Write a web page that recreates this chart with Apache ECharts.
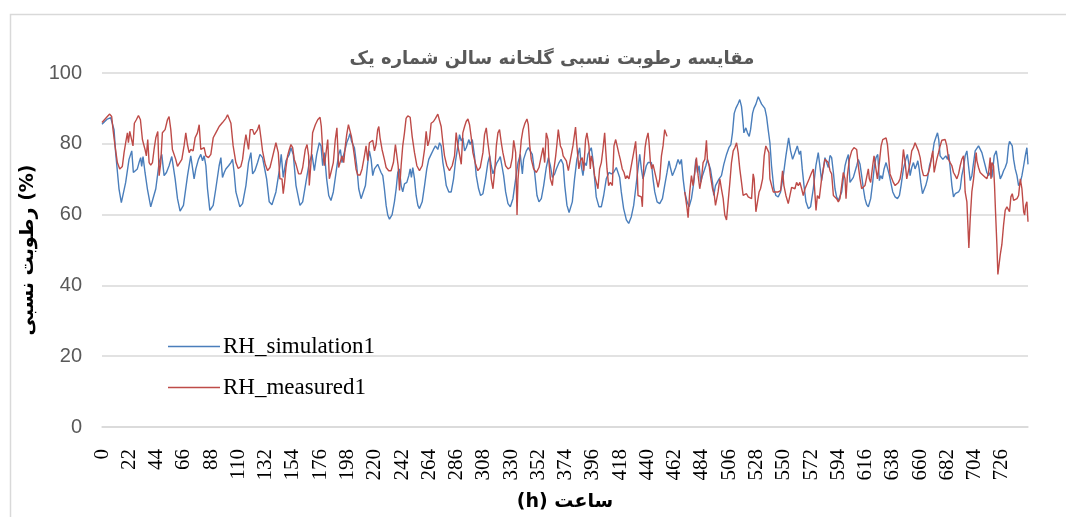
<!DOCTYPE html>
<html><head><meta charset="utf-8">
<script src="https://cdn.jsdelivr.net/npm/echarts@6/dist/echarts.min.js"></script>
<style>html,body{margin:0;padding:0;background:#fff}#c{width:1066px;height:517px}</style>
</head><body><div id="c"></div>
<script>
const titleText = 'مقایسه رطوبت نسبی گلخانه سالن شماره یک';
const yAxisName = 'رطوبت نسبی (%)';
const xAxisName = '(h) ساعت';
const seriesNames = ['RH_simulation1', 'RH_measured1'];
const hourMax = 747;
const hourTickStep = 22;
const yMin = 0, yMax = 100, yStep = 20;

// [hour, RH %]
const simulation = [
[0,85.5],[4.3,87.0],[7.0,87.4],[9.7,84.0],[11.0,77.5],[13.7,67.3],[15.6,63.4],[19.1,69.1],[21.8,75.6],[24.0,78.0],[25.3,71.9],[26.7,71.5],[28.5,72.9],[29.9,74.7],[31.2,76.1],[32.0,73.6],[33.1,76.4],[34.7,71.9],[36.6,67.3],[39.3,62.2],[40.7,61.9],[43.4,67.3],[46.1,74.7],[48.2,77.0],[50.1,71.0],[52.0,71.9],[54.1,73.8],[56.3,76.4],[57.6,76.6],[59.0,70.1],[60.9,64.5],[63.0,61.0],[65.7,62.6],[69.0,71.0],[71.6,76.6],[73.0,77.0],[74.3,70.1],[75.7,72.9],[77.8,75.6],[79.7,77.0],[81.1,75.2],[82.4,76.6],[83.8,73.8],[85.1,67.3],[87.0,61.2],[89.7,62.6],[91.8,67.3],[94.5,73.8],[95.9,76.1],[97.2,70.5],[98.6,71.9],[99.9,72.9],[102.1,73.8],[104.0,74.7],[105.3,75.6],[106.6,71.9],[108.0,66.4],[111.2,62.2],[113.4,63.1],[116.1,68.2],[118.2,74.7],[120.1,77.5],[121.5,71.5],[123.3,72.4],[125.5,74.7],[127.4,77.0],[129.5,76.1],[130.9,76.6],[132.8,70.1],[134.9,63.6],[137.1,62.8],[140.3,66.4],[143.0,72.4],[144.6,77.0],[146.2,70.5],[148.4,75.2],[151.1,77.0],[152.4,78.9],[154.3,77.0],[156.5,68.2],[159.7,62.6],[161.9,63.6],[164.5,69.1],[167.2,74.7],[169.4,77.0],[171.3,72.4],[173.2,77.0],[175.3,80.3],[176.7,79.4],[178.0,73.8],[179.4,77.5],[181.2,70.1],[182.9,65.4],[184.7,64.0],[186.6,66.4],[188.8,71.9],[190.9,77.0],
[192.3,78.4],[193.6,74.7],[194.7,76.6],[196.1,78.4],[197.4,80.3],[199.0,81.7],[200.1,82.9],[201.2,80.8],[202.3,81.2],[203.6,78.9],[205.5,73.8],[207.1,67.3],[209.0,64.5],[210.3,64.3],[212.5,68.2],[214.4,74.7],[215.7,78.0],[217.1,75.6],[218.4,71.0],[219.8,72.9],[221.1,73.3],[222.4,74.2],[223.8,74.2],[225.1,71.9],[226.5,71.0],[227.8,67.3],[229.2,62.6],[230.5,59.9],[231.9,58.7],[234.0,59.9],[235.9,63.6],[237.3,67.3],[238.6,71.9],[239.9,72.9],[241.3,68.2],[242.6,66.4],[244.0,68.7],[245.9,69.1],[247.5,71.0],[248.6,72.9],[249.6,70.5],[250.7,73.3],[252.1,70.1],[253.4,65.4],[254.8,62.6],[256.1,61.7],[258.3,63.6],[260.2,68.2],[262.0,72.9],[263.6,75.6],[265.5,77.0],[267.4,78.4],[269.0,79.4],[270.9,78.4],[272.3,80.3],[273.6,79.4],[275.0,74.7],[276.3,71.9],[277.7,68.2],[279.8,66.4],[281.7,66.4],[283.6,70.1],[285.2,75.2],[287.1,79.4],[288.4,82.6],[289.8,80.8],[291.1,81.7],[292.5,78.0],[293.8,78.9],[296.0,81.2],[297.0,79.8],[298.7,81.2],[300.5,76.6],[301.9,71.0],[303.8,67.3],[305.4,65.4],[307.3,65.9],[309.4,70.1],[311.3,74.7],[312.7,76.6],[314.0,73.8],[315.4,71.5],[316.7,72.9],[318.6,74.7],[320.2,75.6],[321.3,76.4],[322.6,73.8],[324.0,71.0],[325.6,66.4],[327.5,63.1],[329.4,62.2],[331.5,64.5],[333.7,70.1],[335.6,74.7],[337.4,77.0],[339.1,71.5],[340.1,75.6],[342.3,78.0],[343.9,78.9],[345.5,79.4],[347.1,77.0],[349.0,71.9],[350.9,65.4],[352.5,63.6],[354.4,64.5],[356.3,68.2],[358.4,73.3],[360.1,76.1],[361.7,73.8],[363.3,70.5],[365.2,71.5],[366.5,72.9],[368.7,74.7],[370.3,75.6],[372.0,74.2],[373.3,68.2],[375.1,62.6],[376.8,60.6],
[379.4,63.6],[381.2,70.1],[383.1,75.6],[385.3,78.9],[386.6,73.8],[388.0,71.0],[389.3,74.7],[390.7,73.8],[392.0,77.0],[393.4,78.0],[394.7,78.9],[396.0,75.6],[397.4,70.1],[398.7,65.0],[400.9,62.2],[402.8,62.2],[404.7,65.4],[406.8,70.1],[409.0,71.9],[410.9,71.5],[412.7,71.9],[414.9,73.3],[416.2,72.9],[417.6,70.5],[418.9,66.4],[420.8,61.7],[423.0,58.5],[424.9,57.5],[427.0,59.4],[428.9,62.6],[430.5,67.3],[432.4,72.9],[433.8,77.0],[435.1,72.9],[436.4,70.1],[437.8,71.9],[439.1,73.8],[440.5,74.7],[441.8,75.2],[443.2,74.7],[444.5,70.1],[445.9,66.4],[447.8,63.6],[449.9,63.1],[452.1,64.5],[453.9,68.2],[455.8,71.9],[457.4,75.2],[458.5,73.3],[460.1,71.0],[461.2,71.9],[462.8,73.3],[464.7,75.6],[466.1,74.2],[467.4,75.6],[468.8,70.1],[470.1,66.4],[472.0,63.6],[473.6,62.2],[475.5,64.5],[477.4,69.1],[479.0,75.6],[480.3,71.9],[481.7,73.8],[483.0,69.1],[484.4,71.0],[485.7,71.5],[487.1,73.8],[488.4,75.6],[489.8,75.2],[490.8,72.9],[492.5,69.1],[493.5,65.4],[494.9,68.2],[496.2,68.7],[497.8,70.1],[499.7,71.0],[501.6,74.2],[503.8,77.0],[505.7,78.9],[507.3,79.8],[508.6,83.1],[510.0,88.6],[511.3,90.0],[513.2,91.4],[514.5,92.5],[515.9,90.5],[516.7,87.7],[517.8,83.1],[519.4,84.5],[520.7,83.1],[522.1,82.1],[523.2,84.0],[524.8,88.6],[525.9,90.0],[527.5,91.2],[529.4,93.3],[530.7,92.3],[532.1,91.2],[533.4,91.4],[534.7,90.0],[536.1,87.7],[537.4,84.0],[538.8,80.3],[540.1,73.8],[542.0,67.3],[543.6,65.4],[545.5,65.0],[547.4,66.4],[549.6,71.0],[551.7,76.6],[553.9,81.7],[555.5,78.0],[557.1,75.6],[559.0,77.5],[560.9,79.4],[562.5,77.0],[563.6,78.0],[564.9,72.9],[566.3,68.2],[567.9,63.6],[569.8,61.7],[571.6,62.2],[573.8,67.3],[575.9,73.8],[577.8,77.5],[579.2,78.0],
[580.5,69.6],[581.9,72.9],[583.2,76.1],[584.6,75.6],[585.9,73.3],[587.3,76.7],[588.6,76.1],[590.0,71.9],[591.3,67.3],[592.6,65.0],[594.0,64.0],[595.3,64.5],[596.7,66.4],[598.0,70.1],[599.4,73.8],[600.7,75.6],[602.1,77.0],[603.4,69.1],[604.8,69.6],[606.1,70.5],[607.5,70.1],[608.8,73.8],[610.1,75.6],[611.5,74.2],[612.8,71.0],[614.2,67.3],[615.5,64.5],[616.9,62.8],[618.2,62.2],[620.1,64.5],[621.7,69.1],[623.1,73.8],[624.4,76.1],[625.8,77.0],[627.1,69.6],[628.2,71.0],[629.5,70.1],[630.9,72.9],[632.5,74.7],[633.8,75.2],[634.9,71.5],[636.3,69.1],[637.9,66.4],[639.8,65.0],[641.7,64.5],[643.3,65.4],[644.6,68.2],[646.5,72.9],[648.4,75.6],[649.7,77.0],[651.1,73.8],[651.9,71.0],[653.2,73.3],[654.6,74.7],[655.9,72.9],[657.3,74.2],[658.1,75.2],[659.2,72.9],[660.5,69.1],[661.9,65.9],[663.2,65.4],[664.5,68.2],[665.9,70.1],[667.5,73.8],[668.9,75.6],[669.9,77.0],[671.3,80.3],[672.6,81.7],[674.0,83.1],[675.0,81.2],[676.1,76.6],[677.5,77.0],[678.3,75.6],[679.4,76.1],[680.7,76.6],[682.1,75.6],[683.1,77.0],[684.2,73.3],[685.6,68.2],[686.9,65.0],[688.3,65.9],[689.6,65.4],[691.0,66.4],[692.3,67.3],[693.6,71.0],[695.0,73.3],[696.3,76.6],[697.7,78.0],[699.0,73.8],[700.4,69.6],[701.7,71.0],[703.1,74.7],[704.4,78.0],[705.8,77.7],[707.1,79.4],[708.4,79.6],[709.8,77.5],[711.1,77.0],[712.5,73.8],[713.8,71.9],[715.2,71.0],[716.5,71.9],[717.9,70.5],[718.7,72.9],[719.7,76.6],[721.4,78.0],[722.4,75.6],[723.5,72.4],[724.6,70.1],[725.9,71.0],[727.3,72.4],[728.6,73.3],[730.0,74.7],[731.3,79.4],[732.1,80.7],[733.2,80.3],[734.3,79.4],[735.4,75.6],[736.7,72.9],[738.1,71.0],[739.4,68.2],[740.8,69.1],[742.1,71.0],[743.5,73.8],[744.8,76.6],[746.1,78.9],[747.0,74.2]
];

const measured = [
[0,86.0],[4.3,87.7],[6.2,88.4],[7.8,87.7],[8.9,84.0],[10.5,79.4],[12.4,74.7],[14.3,72.9],[16.4,73.6],[17.8,77.5],[19.1,80.3],[20.5,83.1],[21.3,80.3],[22.4,83.5],[24.0,84.0],[25.0,79.4],[26.1,85.8],[27.7,86.8],[29.4,88.0],[31.0,86.8],[32.6,81.2],[34.7,78.4],[35.8,76.6],[36.9,81.2],[38.0,74.7],[39.3,74.0],[40.7,74.7],[42.0,78.4],[43.4,81.7],[45.0,83.5],[46.1,71.0],[47.4,74.7],[48.7,83.1],[50.9,84.0],[52.8,86.8],[54.1,87.7],[55.5,84.0],[56.8,78.4],[58.2,78.9],[59.5,75.6],[60.9,73.6],[62.2,73.8],[64.4,75.6],[66.2,79.4],[67.6,83.1],[68.9,79.8],[70.3,77.5],[71.6,78.4],[73.5,78.0],[75.1,81.7],[77.0,83.1],[78.4,85.4],[79.7,78.4],[81.1,78.4],[82.4,78.9],[83.8,76.6],[85.9,76.1],[87.8,77.0],[89.7,81.7],[91.8,83.1],[93.2,84.0],[94.5,84.9],[95.9,85.1],[97.2,86.0],[98.6,85.7],[99.9,87.2],[101.3,88.2],[102.6,87.9],[104.0,85.8],[105.8,79.4],[108.0,74.7],[109.9,73.0],[112.0,73.6],[113.4,75.6],[114.7,79.4],[116.1,82.6],[118.2,78.4],[119.6,84.0],[121.5,84.0],[122.8,82.6],[124.2,82.1],[125.5,84.0],[126.8,85.4],[128.2,81.7],[129.5,78.0],[131.7,74.2],[133.6,72.4],[135.5,73.3],[137.1,75.6],[139.0,78.4],[140.3,80.3],[142.2,77.5],[143.5,70.1],[145.2,70.1],[146.2,65.9],[147.3,69.1],[148.4,73.3],[149.7,76.6],[151.1,78.4],[152.4,79.8],[153.8,78.9],[155.1,75.6],[156.5,74.2],[158.6,71.5],[160.5,71.5],[161.9,73.3],[164.0,78.4],[165.4,79.8],[166.7,76.6],[167.2,68.2],[168.6,74.7],[169.9,83.1],[172.1,85.4],[174.0,86.8],[175.9,87.5],[176.9,84.9],[178.0,78.4],[179.4,73.8],[180.7,73.8],[182.1,81.2],[183.4,70.1],[184.7,71.9],[186.6,74.7],[188.2,81.2],[189.5,84.5],
[190.9,73.3],[192.3,73.8],[193.6,76.6],[195.0,74.7],[196.3,79.4],[197.4,82.6],[198.8,85.4],[200.1,84.9],[201.2,82.1],[202.3,79.8],[203.6,76.6],[204.9,72.9],[206.3,71.2],[208.2,71.2],[209.8,72.9],[211.7,76.6],[213.0,79.4],[214.4,75.2],[215.7,80.3],[217.1,80.3],[218.4,81.0],[219.8,78.0],[221.1,79.8],[222.4,84.0],[223.3,84.9],[224.3,81.7],[225.9,78.4],[227.8,75.6],[229.2,73.3],[231.3,72.4],[233.2,72.4],[235.1,74.7],[236.7,79.8],[237.8,80.3],[238.9,73.8],[240.0,66.8],[241.3,73.8],[242.6,79.4],[244.0,83.1],[245.3,87.2],[246.7,87.9],[248.6,87.5],[250.2,82.1],[252.1,77.5],[254.0,73.8],[256.1,72.4],[258.3,73.8],[260.2,78.4],[261.5,83.5],[262.8,79.4],[264.2,81.2],[265.5,85.8],[267.4,86.3],[269.0,87.2],[270.9,88.4],[272.3,88.4],[273.6,84.9],[275.0,80.3],[276.3,76.6],[278.2,73.8],[280.3,72.4],[282.5,73.8],[284.4,76.6],[285.7,83.2],[287.1,79.4],[288.4,77.0],[289.8,74.2],[291.1,83.1],[292.5,84.9],[293.8,86.3],[295.2,87.0],[296.5,85.4],[297.9,81.7],[299.2,77.5],[301.4,74.2],[303.2,72.4],[305.1,73.3],[307.3,77.5],[308.6,82.6],[310.0,84.5],[311.3,80.3],[312.7,76.6],[314.0,70.1],[315.4,67.3],[316.7,71.9],[318.1,79.4],[319.4,83.1],[320.7,84.0],[322.1,80.3],[323.4,77.5],[325.6,73.8],[327.5,72.9],[329.4,73.3],[331.0,76.1],[332.1,81.0],[333.7,77.5],[334.8,59.9],[335.6,70.1],[336.9,75.6],[338.2,81.0],[339.6,84.0],[341.2,85.8],[342.8,87.0],[343.9,85.4],[345.0,79.8],[346.3,75.6],[348.2,72.9],[350.4,71.9],[352.5,73.3],[354.4,76.6],[355.8,78.9],[357.1,74.7],[358.4,83.1],[359.8,81.2],[360.6,74.7],[361.7,70.1],[363.3,68.2],[364.4,72.4],[366.0,76.6],[367.1,80.3],[368.1,84.0],[369.8,79.4],[371.1,78.4],[372.0,76.6],[373.3,77.0],[374.6,75.2],[376.2,72.4],[377.2,72.9],
[379.9,79.4],[382.0,84.7],[383.1,79.4],[384.7,72.9],[385.8,75.2],[387.4,76.1],[388.5,72.4],[390.1,81.2],[391.2,83.1],[392.8,79.4],[393.9,72.9],[394.7,76.6],[396.0,74.7],[397.4,71.0],[398.7,71.0],[400.1,67.3],[401.4,72.9],[402.8,74.7],[404.1,78.4],[405.5,83.1],[406.3,78.4],[407.4,72.9],[408.7,68.2],[410.1,69.1],[411.7,68.2],[413.0,79.4],[414.4,81.2],[415.7,81.7],[417.1,77.0],[418.1,75.6],[419.7,72.9],[421.1,71.9],[422.4,70.1],[423.5,71.0],[425.1,70.1],[427.0,73.8],[428.9,77.5],[430.5,80.7],[431.6,73.8],[432.4,65.4],[433.8,65.9],[435.1,65.0],[435.9,62.2],[437.0,73.8],[438.1,78.9],[439.1,81.2],[440.5,83.1],[441.3,80.3],[442.4,74.7],[443.4,72.9],[444.5,74.2],[445.9,73.8],[447.2,70.1],[448.6,67.7],[449.9,70.1],[451.3,76.6],[452.6,79.4],[453.9,84.0],[454.8,84.5],[455.8,82.1],[462,null],
[470.1,66.4],[472.0,61.7],[472.8,59.1],[474.1,66.4],[475.5,71.0],[476.8,68.2],[478.2,71.9],[479.5,76.1],[480.9,71.0],[482.2,67.3],[483.6,70.1],[484.9,74.7],[486.3,75.6],[487.6,81.0],[488.4,75.6],[489.8,73.8],[490.8,71.0],[492.5,67.3],[493.8,65.9],[494.9,62.6],[495.7,63.1],[497.0,66.4],[498.4,70.1],[499.7,67.3],[501.1,64.5],[502.4,59.9],[503.8,58.5],[505.1,63.6],[506.5,69.1],[507.8,74.7],[509.2,78.0],[510.5,78.9],[511.9,80.3],[513.2,77.5],[514.5,72.9],[515.9,69.1],[517.2,65.4],[518.6,65.2],[519.9,65.9],[521.3,65.0],[522.6,65.4],[524.0,64.5],[525.3,71.5],[526.1,70.1],[527.5,60.8],[528.8,63.6],[530.1,66.4],[531.2,67.3],[532.9,70.1],[534.2,76.6],[535.5,79.4],[536.6,79.7],[538.0,77.5],[538.8,70.1],[539.9,70.5],[541.5,66.4],[543.6,66.4],[545.5,66.4],[547.4,66.8],[549.0,72.4],[550.1,68.2],[551.7,65.4],[553.6,63.1],[554.9,62.6],[556.3,67.7],[557.6,68.2],[559.0,67.3],[560.3,69.1],[561.7,68.2],[563.0,69.1],[564.4,67.3],[565.7,65.4],[567.1,67.3],[568.4,67.7],[570.5,70.1],[572.5,71.9],[573.8,72.9],[576.0,61.2],[577.1,65.4],[578.6,64.5],
[580.5,70.1],[581.9,72.9],[583.2,75.6],[584.6,76.1],[585.9,74.7],[587.3,72.4],[588.6,71.5],[590.0,65.4],[591.3,65.0],[592.6,64.5],[594.0,63.6],[595.3,64.5],[596.7,68.2],[598.0,71.9],[599.4,70.1],[600.2,64.5],[601.3,71.0],[602.9,75.6],[604.8,78.0],[606.6,78.9],[608.8,78.4],[610.1,73.8],[611.5,70.1],[612.8,67.3],[614.2,67.3],[615.5,68.2],[616.9,67.7],[618.2,72.9],[619.0,70.1],[620.1,69.1],[621.7,73.8],[622.8,76.6],[624.2,77.0],[625.5,70.1],[627.1,74.7],[628.5,79.4],[629.8,81.2],[630.9,81.7],[632.5,81.7],[633.6,79.8],[634.7,75.6],[635.7,71.5],[637.1,71.0],[638.4,69.1],[639.8,68.2],[641.1,68.2],[642.5,69.1],[643.8,70.1],[645.2,72.9],[646.5,78.4],[647.9,74.7],[649.2,70.1],[650.5,70.5],[651.9,74.7],[653.2,78.0],[654.6,78.9],[655.9,80.3],[657.3,80.3],[658.6,78.0],[660.0,76.1],[661.3,72.9],[662.7,71.0],[664.0,70.5],[665.4,71.0],[666.7,71.9],[668.1,73.8],[669.4,76.6],[670.2,78.0],[671.3,71.9],[672.4,71.5],[673.4,75.6],[674.8,77.5],[676.1,79.4],[677.5,81.0],[678.8,81.2],[680.2,81.2],[681.5,79.4],[682.9,75.6],[684.2,74.7],[685.6,73.8],[686.9,71.9],[688.3,71.0],[689.6,70.1],[691.0,71.5],[692.3,73.8],[693.6,75.6],[695.0,76.6],[696.3,66.4],[697.7,63.6],[698.5,57.1],[699.3,50.6],[700.4,58.9],[701.7,66.4],[703.1,70.1],[704.4,74.7],[705.2,77.5],[705.8,75.2],[707.1,73.3],[708.4,71.9],[709.8,71.5],[711.1,71.0],[712.5,70.5],[713.8,70.1],[715.2,71.9],[716.5,76.1],[717.1,70.1],[717.9,74.7],[719.2,73.8],[720.0,68.2],[720.8,60.8],[721.9,51.5],[722.7,43.1],[723.8,42.9],[724.6,48.6],[725.9,51.5],[727.3,57.1],[728.6,61.2],[730.0,62.2],[731.3,61.7],[732.1,60.8],[733.2,65.0],[734.3,65.9],[735.4,64.0],[736.7,64.0],[738.1,64.5],[739.4,65.4],[740.8,70.1],[742.1,67.3],[743.5,60.8],[744.3,59.9],[745.1,62.6],[746.1,63.6],[747.0,58.0]
];

const colors = ['#4a7ebb', '#be4b48'];
const serifFont = '"Liberation Serif", "Times New Roman", serif';
const sansFont = '"Liberation Sans", "DejaVu Sans", sans-serif';
const faFont = '"DejaVu Sans", "Liberation Sans", sans-serif';

const chart = echarts.init(document.getElementById('c'), null, {renderer: 'canvas'});
chart.setOption({
  animation: false,
  backgroundColor: '#ffffff',
  graphic: [{
    type: 'rect', left: 8, top: 12, silent: true, z: -10,
    shape: {width: 1200, height: 700},
    style: {fill: 'none', stroke: '#d9d9d9', lineWidth: 1.5}
  }],
  title: {
    text: titleText, left: 547, top: 45, textAlign: 'center',
    textStyle: {fontFamily: faFont, fontSize: 18, fontWeight: 'bold', color: '#595959'}
  },
  legend: {
    orient: 'vertical', left: 163, top: 330, icon: 'rect', itemWidth: 52, itemHeight: 1.5, itemGap: 18,
    data: seriesNames,
    textStyle: {fontFamily: serifFont, fontSize: 23, color: '#000000', lineHeight: 22, padding: [0,0,0,-2]}
  },
  grid: {left: 102, right: 38, top: 73, bottom: 85, containLabel: false},
  xAxis: {
    type: 'value', min: 0, max: hourMax, interval: hourTickStep,
    name: xAxisName, nameLocation: 'middle', nameGap: 66,
    nameTextStyle: {fontFamily: faFont, fontSize: 19, fontWeight: 'bold', color: '#000000'},
    axisLine: {show: true, onZero: false, lineStyle: {color: '#d9d9d9', width: 1.5}},
    axisTick: {show: false},
    splitLine: {show: false},
    axisLabel: {rotate: 90, margin: 22, fontFamily: serifFont, fontSize: 21, color: '#000000',
      showMaxLabel: false, showMinLabel: true,
      formatter: v => (Math.round(v) % hourTickStep === 0 ? String(Math.round(v)) : '')}
  },
  yAxis: {
    type: 'value', min: yMin, max: yMax, interval: yStep,
    name: yAxisName, nameLocation: 'middle', nameGap: 53, nameRotate: 90,
    nameTextStyle: {fontFamily: faFont, fontSize: 19, fontWeight: 'bold', color: '#000000'},
    axisLine: {show: false}, axisTick: {show: false},
    splitLine: {lineStyle: {color: '#d9d9d9', width: 1.5}},
    axisLabel: {margin: 20, fontFamily: sansFont, fontSize: 20, color: '#595959'}
  },
  series: [
    {name: seriesNames[0], type: 'line', data: simulation, symbol: 'none', connectNulls: false,
     lineStyle: {color: colors[0], width: 1.4}, itemStyle: {color: colors[0]}, z: 2},
    {name: seriesNames[1], type: 'line', data: measured, symbol: 'none', connectNulls: false,
     lineStyle: {color: colors[1], width: 1.4}, itemStyle: {color: colors[1]}, z: 3}
  ]
});
</script>
</body></html>
